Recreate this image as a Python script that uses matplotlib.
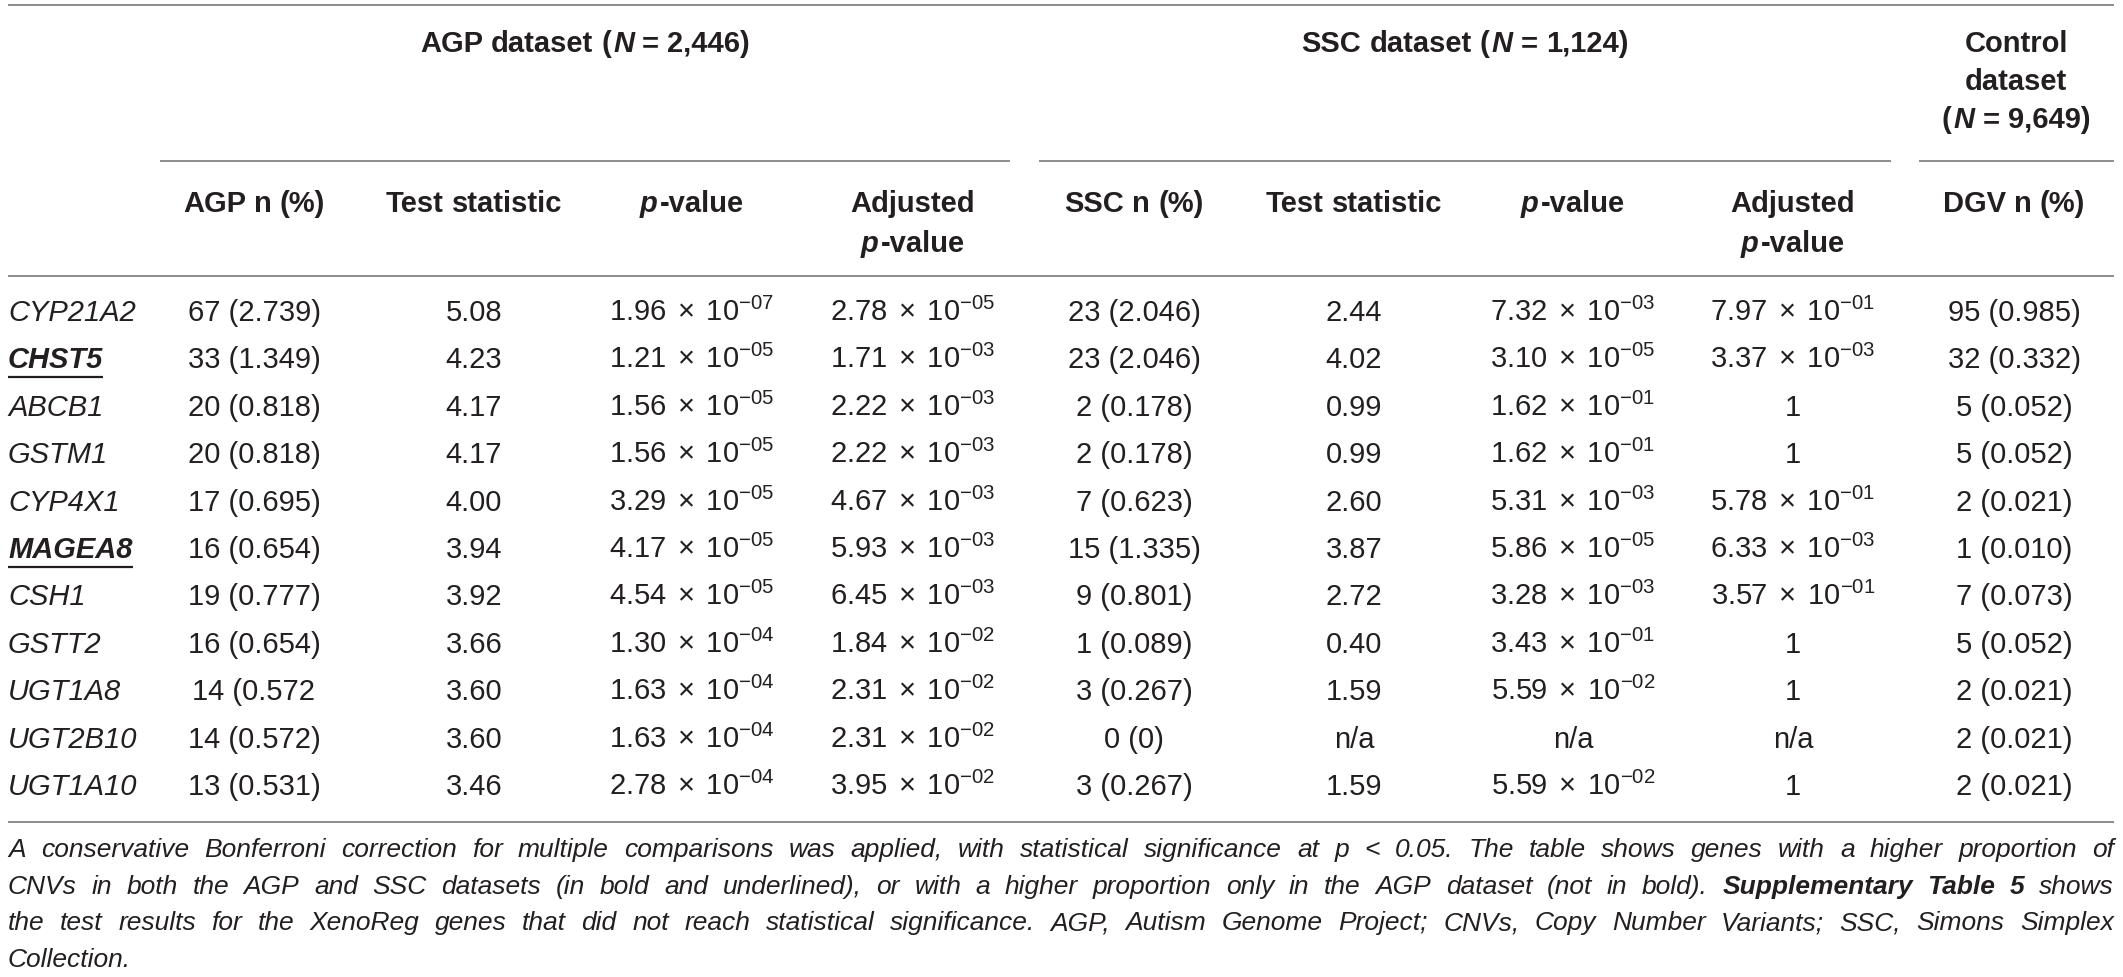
import matplotlib
matplotlib.use("Agg")
import matplotlib.pyplot as plt

# table data
genes = ["CYP21A2", "CHST5", "ABCB1", "GSTM1", "CYP4X1", "MAGEA8",
         "CSH1", "GSTT2", "UGT1A8", "UGT2B10", "UGT1A10"]
bold_genes = ["CHST5", "MAGEA8"]
agp_n = ["67 (2.739)", "33 (1.349)", "20 (0.818)", "20 (0.818)", "17 (0.695)", "16 (0.654)",
         "19 (0.777)", "16 (0.654)", "14 (0.572", "14 (0.572)", "13 (0.531)"]
agp_stat = ["5.08", "4.23", "4.17", "4.17", "4.00", "3.94", "3.92", "3.66", "3.60", "3.60", "3.46"]
agp_p = ["1.96e-07", "1.21e-05", "1.56e-05", "1.56e-05", "3.29e-05", "4.17e-05",
         "4.54e-05", "1.30e-04", "1.63e-04", "1.63e-04", "2.78e-04"]
agp_adj = ["2.78e-05", "1.71e-03", "2.22e-03", "2.22e-03", "4.67e-03", "5.93e-03",
           "6.45e-03", "1.84e-02", "2.31e-02", "2.31e-02", "3.95e-02"]
ssc_n = ["23 (2.046)", "23 (2.046)", "2 (0.178)", "2 (0.178)", "7 (0.623)", "15 (1.335)",
         "9 (0.801)", "1 (0.089)", "3 (0.267)", "0 (0)", "3 (0.267)"]
ssc_stat = ["2.44", "4.02", "0.99", "0.99", "2.60", "3.87", "2.72", "0.40", "1.59", "n/a", "1.59"]
ssc_p = ["7.32e-03", "3.10e-05", "1.62e-01", "1.62e-01", "5.31e-03", "5.86e-05",
         "3.28e-03", "3.43e-01", "5.59e-02", "n/a", "5.59e-02"]
ssc_adj = ["7.97e-01", "3.37e-03", "1", "1", "5.78e-01", "6.33e-03",
           "3.57e-01", "1", "1", "n/a", "1"]
dgv_n = ["95 (0.985)", "32 (0.332)", "5 (0.052)", "5 (0.052)", "2 (0.021)", "1 (0.010)",
         "7 (0.073)", "5 (0.052)", "2 (0.021)", "2 (0.021)", "2 (0.021)"]

group_headers = [
    [[("AGP dataset (", "b"), ("N", "bi"), (" = 2,446)", "b")]],
    [[("SSC dataset (", "b"), ("N", "bi"), (" = 1,124)", "b")]],
    [[("Control", "b")], [("dataset", "b")], [("(", "b"), ("N", "bi"), (" = 9,649)", "b")]],
]
col_headers = [
    [[("AGP n (%)", "b")]],
    [[("Test statistic", "b")]],
    [[("p", "bi"), ("-value", "b")]],
    [[("Adjusted", "b")], [("p", "bi"), ("-value", "b")]],
    [[("SSC n (%)", "b")]],
    [[("Test statistic", "b")]],
    [[("p", "bi"), ("-value", "b")]],
    [[("Adjusted", "b")], [("p", "bi"), ("-value", "b")]],
    [[("DGV n (%)", "b")]],
]
footnote = [
    [("A conservative Bonferroni correction for multiple comparisons was applied, with statistical "
      "significance at p < 0.05. The table shows genes with a higher proportion of", "i")],
    [("CNVs in both the AGP and SSC datasets (in bold and underlined), or with a higher proportion "
      "only in the AGP dataset (not in bold). ", "i"), ("Supplementary Table 5", "bi"), (" shows", "i")],
    [("the test results for the XenoReg genes that did not reach statistical significance. AGP, "
      "Autism Genome Project; CNVs, Copy Number Variants; SSC, Simons Simplex", "i")],
    [("Collection.", "i")],
]

# layout (pixels)
W, H = 2123, 977
FONT = "Liberation Sans"
TXT = "#231f20"
RULE = "#8c8c8c"
col_x = [254, 474, 692, 913, 1134, 1354, 1573, 1793, 2014]
group_x = [585, 1465, 2016]
row_y0, row_dy = 310, 47.4
size = 21

plt.rcParams["font.family"] = FONT
plt.rcParams["mathtext.fontset"] = "custom"
plt.rcParams["mathtext.rm"] = FONT
plt.rcParams["mathtext.it"] = FONT + ":italic"
plt.rcParams["mathtext.bf"] = FONT + ":bold"

fig = plt.figure(figsize=(W / 100, H / 100), dpi=100)
ax = fig.add_axes([0, 0, 1, 1])
ax.set_xlim(0, W)
ax.set_ylim(H, 0)
ax.axis("off")
renderer = fig.canvas.get_renderer()

STY = {"n": dict(weight="normal", style="normal"),
       "i": dict(weight="normal", style="italic"),
       "b": dict(weight="bold", style="normal"),
       "bi": dict(weight="bold", style="italic")}


def width(s, st, fs):
    t = ax.text(0, 0, s, fontsize=fs, **STY[st])
    w = t.get_window_extent(renderer).width
    t.remove()
    return w


def tokenize(segs):
    toks = []
    gap = False
    for text, st in segs:
        parts = text.split(" ")
        for i, p in enumerate(parts):
            if i > 0:
                gap = True
            if p:
                toks.append((p, st, gap and len(toks) > 0))
                gap = False
    return toks


def draw_runs(x, y, segs, fs, ha="center", justify=None):
    toks = tokenize(segs)
    ws = [width(p, st, fs) for p, st, g in toks]
    sp = width("a a", "n", fs) - width("aa", "n", fs)
    ngap = sum(1 for t in toks if t[2])
    if justify is not None and ngap:
        sp = (justify - sum(ws)) / ngap
    total = sum(ws) + sp * ngap + 2 * sum(1 for i, t in enumerate(toks) if i and not t[2])
    cur = x - total / 2 if ha == "center" else x
    for i, ((p, st, g), w) in enumerate(zip(toks, ws)):
        if i:
            cur += sp if g else 2
        ax.text(cur, y, p, fontsize=fs, ha="left", va="baseline", color=TXT, **STY[st])
        cur += w
    return total


def cell(s):
    if "e-" in s:
        m, e = s.split("e-")
        return r"$%s\;\times\;10^{-%s}$" % (m, e)
    return s


# rules
ax.hlines(5, 8, 2114, color=RULE, lw=1.4)
for x0, x1 in [(160, 1010), (1039, 1891), (1919, 2114)]:
    ax.hlines(161, x0, x1, color=RULE, lw=1.4)
ax.hlines(276, 8, 2114, color=RULE, lw=1.4)
ax.hlines(822, 8, 2114, color=RULE, lw=1.4)

# headers
for gx, lines in zip(group_x, group_headers):
    for k, segs in enumerate(lines):
        draw_runs(gx, 52 + k * 38, segs, size)
for cx, lines in zip(col_x, col_headers):
    for k, segs in enumerate(lines):
        draw_runs(cx, 212 + k * 40, segs, size)

# body
columns = [agp_n, agp_stat, agp_p, agp_adj, ssc_n, ssc_stat, ssc_p, ssc_adj, dgv_n]
for i, g in enumerate(genes):
    yb = row_y0 + i * row_dy + 11
    st = "bi" if g in bold_genes else "i"
    t = ax.text(8, yb, g, fontsize=size, ha="left", va="baseline", color=TXT, **STY[st])
    if g in bold_genes:
        bb = t.get_window_extent(renderer)
        ax.hlines(H - bb.y0 + 3, bb.x0, bb.x1, color=TXT, lw=1.6)
    for cx, col in zip(col_x, columns):
        ax.text(cx, yb, cell(col[i]), fontsize=size, ha="center", va="baseline", color=TXT)

# footnote, justified; font size chosen so the longest line fits the width
fn_size = 19
sp0 = width("a a", "n", fn_size) - width("aa", "n", fn_size)
nat = max(sum(width(p, st, fn_size) for p, st, g in tokenize(l)) + sp0 * len(tokenize(l))
          for l in footnote)
if nat > 2085:
    fn_size = fn_size * 2085 / nat
for k, segs in enumerate(footnote):
    yb = 857 + k * 36.7
    if k < len(footnote) - 1:
        draw_runs(8, yb, segs, fn_size, ha="left", justify=2106)
    else:
        draw_runs(8, yb, segs, fn_size, ha="left")

fig.savefig("out.png", dpi=100)
